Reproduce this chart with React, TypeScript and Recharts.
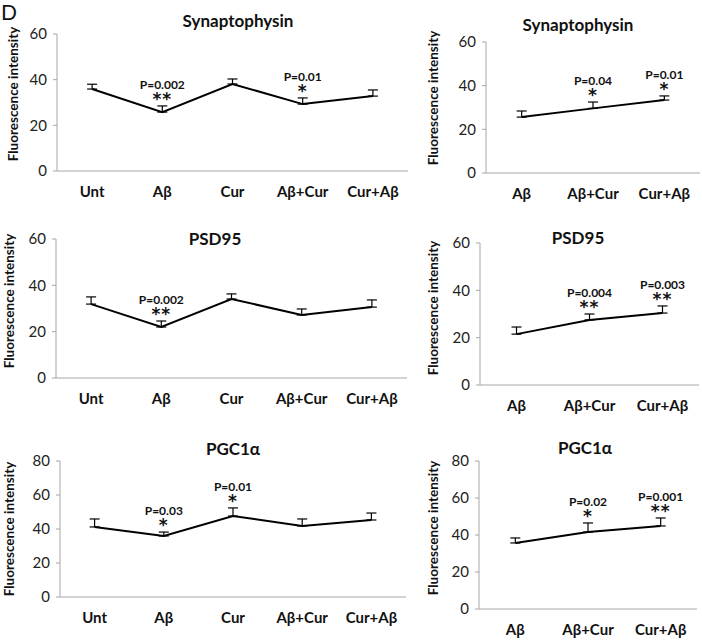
import { LineChart, Line, XAxis, YAxis, ErrorBar, LabelList } from "recharts";

const FONT = "Lato, 'Open Sans', sans-serif";
const STAR_FONT = "'DejaVu Sans', sans-serif";

const catsFull = ["Unt", "Aβ", "Cur", "Aβ+Cur", "Cur+Aβ"];
const catsShort = ["Aβ", "Aβ+Cur", "Cur+Aβ"];

const ticks60 = [0, 20, 40, 60];
const ticks80 = [0, 20, 40, 60, 80];

// Synaptophysin
const synLeft = [35.9, 25.8, 38.1, 29.3, 32.8];
const synLeftErr = [2.1, 2.7, 2.2, 2.7, 2.7];
const synLeftP = ["", "P=0.002", "", "P=0.01", ""];
const synLeftStars = ["", "**", "", "*", ""];

const synRight = [25.6, 29.6, 33.4];
const synRightErr = [2.8, 2.9, 1.9];
const synRightP = ["", "P=0.04", "P=0.01"];
const synRightStars = ["", "*", "*"];

// PSD95
const psdLeft = [31.9, 22.0, 34.1, 27.2, 30.6];
const psdLeftErr = [3.1, 2.6, 2.2, 2.6, 3.1];
const psdLeftP = ["", "P=0.002", "", "", ""];
const psdLeftStars = ["", "**", "", "", ""];

const psdRight = [21.5, 27.5, 30.4];
const psdRightErr = [3.0, 2.5, 3.0];
const psdRightP = ["", "P=0.004", "P=0.003"];
const psdRightStars = ["", "**", "**"];

// PGC1α
const pgcLeft = [41.2, 35.9, 47.6, 41.8, 45.3];
const pgcLeftErr = [4.7, 2.3, 4.8, 4.1, 4.1];
const pgcLeftP = ["", "P=0.03", "P=0.01", "", ""];
const pgcLeftStars = ["", "*", "*", "", ""];

const pgcRight = [35.7, 41.6, 44.9];
const pgcRightErr = [2.7, 4.9, 4.3];
const pgcRightP = ["", "P=0.02", "P=0.001"];
const pgcRightStars = ["", "*", "**"];

type Box = { x0: number; x1: number; y0: number; y1: number };

type PanelProps = {
  cats: string[];
  values: number[];
  errs: number[];
  pText: string[];
  stars: string[];
  ticks: number[];
  plot: Box;
};

function Panel({ cats, values, errs, pText, stars, ticks, plot }: PanelProps) {
  const data = cats.map((c, i) => ({
    cat: c,
    value: values[i],
    err: [0, errs[i]],
    top: values[i] + errs[i],
  }));
  const left = plot.x0 - 50;
  const top = plot.y0 - 30;
  const width = plot.x1 - left + 4;
  const height = plot.y1 - top + 35;
  const pad = (plot.x1 - plot.x0) / (2 * cats.length);

  const renderNote = (props: any) => {
    const { x, y, index } = props;
    return (
      <g>
        {pText[index] && (
          <text x={x} y={y - 17} textAnchor="middle" fontSize={12} fontWeight="bold" fill="#111" fontFamily={FONT}>
            {pText[index]}
          </text>
        )}
        {stars[index] && (
          <text x={x} y={y - 1} textAnchor="middle" fontSize={17} fontWeight="bold" fill="#111" fontFamily={STAR_FONT} letterSpacing={1}>
            {stars[index]}
          </text>
        )}
      </g>
    );
  };

  return (
    <div style={{ position: "absolute", left, top }}>
      <LineChart width={width} height={height} data={data} margin={{ top: 30, right: 4, left: 0, bottom: 0 }}>
        <XAxis
          dataKey="cat"
          padding={{ left: pad, right: pad }}
          height={35}
          tickLine={false}
          tickSize={0}
          tickMargin={15}
          axisLine={{ stroke: "#a6a6a6" }}
          tick={{ fontSize: 15, fontWeight: "bold", fill: "#111", fontFamily: FONT }}
          interval={0}
        />
        <YAxis
          width={50}
          domain={[0, ticks[ticks.length - 1]]}
          ticks={ticks}
          tickSize={4}
          tickMargin={6}
          axisLine={{ stroke: "#a6a6a6" }}
          tickLine={{ stroke: "#a6a6a6" }}
          tick={{ fontSize: 15, fill: "#222", fontFamily: FONT }}
        />
        <Line dataKey="value" type="linear" stroke="#000" strokeWidth={2} dot={false} activeDot={false} isAnimationActive={false}>
          <ErrorBar dataKey="err" direction="y" width={5} stroke="#000" strokeWidth={1.2} />
        </Line>
        <Line dataKey="top" stroke="none" dot={false} activeDot={false} isAnimationActive={false}>
          <LabelList dataKey="top" content={renderNote} />
        </Line>
      </LineChart>
    </div>
  );
}

const titles = [
  { text: "Synaptophysin", x: 238, y: 27 },
  { text: "Synaptophysin", x: 578, y: 31 },
  { text: "PSD95", x: 215, y: 245 },
  { text: "PSD95", x: 578, y: 244 },
  { text: "PGC1α", x: 233, y: 455 },
  { text: "PGC1α", x: 585, y: 454 },
];

const yLabels = [
  { x: 18, y: 94 },
  { x: 438, y: 98 },
  { x: 14, y: 301 },
  { x: 438, y: 308 },
  { x: 14, y: 529 },
  { x: 438, y: 528 },
];

export default function App() {
  return (
    <div style={{ position: "absolute", left: 0, top: 0, width: 702, height: 640, background: "#fff", overflow: "hidden" }}>
      <Panel cats={catsFull} values={synLeft} errs={synLeftErr} pText={synLeftP} stars={synLeftStars} ticks={ticks60} plot={{ x0: 57, x1: 408, y0: 34, y1: 171 }} />
      <Panel cats={catsShort} values={synRight} errs={synRightErr} pText={synRightP} stars={synRightStars} ticks={ticks60} plot={{ x0: 486, x1: 700, y0: 42, y1: 173 }} />
      <Panel cats={catsFull} values={psdLeft} errs={psdLeftErr} pText={psdLeftP} stars={psdLeftStars} ticks={ticks60} plot={{ x0: 56, x1: 407, y0: 239, y1: 378 }} />
      <Panel cats={catsShort} values={psdRight} errs={psdRightErr} pText={psdRightP} stars={psdRightStars} ticks={ticks60} plot={{ x0: 480, x1: 699, y0: 243, y1: 385 }} />
      <Panel cats={catsFull} values={pgcLeft} errs={pgcLeftErr} pText={pgcLeftP} stars={pgcLeftStars} ticks={ticks80} plot={{ x0: 60, x1: 406, y0: 461, y1: 597 }} />
      <Panel cats={catsShort} values={pgcRight} errs={pgcRightErr} pText={pgcRightP} stars={pgcRightStars} ticks={ticks80} plot={{ x0: 479, x1: 697, y0: 461, y1: 609 }} />
      <svg width={702} height={640} style={{ position: "absolute", left: 0, top: 0, pointerEvents: "none" }}>
        <text x={1} y={20} fontSize={21} fill="#111" fontFamily={FONT}>D</text>
        {titles.map((t, i) => (
          <text key={i} x={t.x} y={t.y} textAnchor="middle" fontSize={17} fontWeight="bold" fill="#111" fontFamily={FONT}>
            {t.text}
          </text>
        ))}
        {yLabels.map((l, i) => (
          <text key={i} x={l.x} y={l.y} transform={`rotate(-90 ${l.x} ${l.y})`} textAnchor="middle" fontSize={13.5} fontWeight="bold" fill="#111" fontFamily={FONT}>
            Fluorescence intensity
          </text>
        ))}
      </svg>
    </div>
  );
}
